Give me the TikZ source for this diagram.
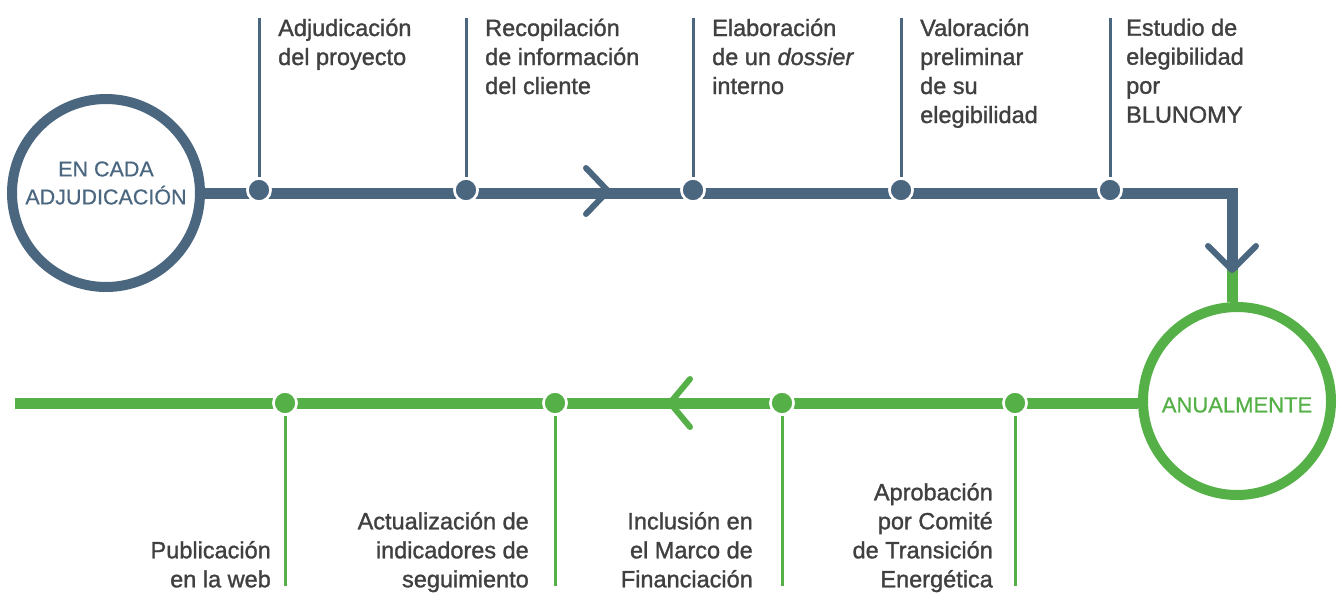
\documentclass[tikz,border=0pt]{standalone}
\usepackage{fontspec}
\setmainfont{Liberation Sans}
\newfontfamily\lblfont{Liberation Sans}[FakeBold=1.3,ItalicFeatures={FakeBold=1.3}]
\newfontfamily\circfont{Liberation Sans}[FakeBold=0.6]
\definecolor{cblue}{HTML}{4B6780}
\definecolor{cgreen}{HTML}{55B147}
\definecolor{ctext}{HTML}{404040}
\newcommand\botstrut{\rule[-7pt]{0pt}{1pt}}
\tikzset{
  lbl/.style={inner sep=0pt, text=ctext, font=\lblfont\fontsize{23.5}{29}\selectfont},
  toplbl/.style={lbl, anchor=north west, align=left},
  botlbl/.style={lbl, anchor=south east, align=right},
  bigcircle/.style={circle, line width=10pt, minimum size=188pt, inner sep=0pt},
  circtext/.style={inner sep=0pt, align=center, font=\circfont\fontsize{21.5}{28}\selectfont},
  mainline/.style={line width=11pt, line join=miter},
  tick/.style={line width=3pt},
  dot/.style={circle, draw=white, line width=2.5pt, minimum size=23pt, inner sep=0pt},
  chev/.style={line width=6pt, line cap=round, line join=round},
}
\begin{document}
\begin{tikzpicture}[x=1pt,y=-1pt]
\useasboundingbox (0,0) rectangle (1339,592);
% circles
\node[bigcircle, draw=cblue] (c1) at (106,193) {};
\node[circtext, text=cblue] (c1t) at (106,183) {EN CADA\\ADJUDICACIÓN};
\node[bigcircle, draw=cgreen] (c2) at (1237,401) {};
\node[circtext, text=cgreen, font=\circfont\fontsize{22}{28}\selectfont] (c2t) at (1237,405) {ANUALMENTE};
% coordinates
\coordinate (corner) at (1232,193);
\coordinate (bend) at (1232,270);
\coordinate (gend) at (15,403);
% main lines
\draw[mainline, cgreen] (bend) -- (bend |- c2.north);
\draw[mainline, cblue] (c1.east) -- (corner) -- (bend);
\draw[mainline, cgreen] (c2.west |- gend) -- (gend);
% chevrons
\draw[chev, cblue] (586,168) -- (608,191) -- (586,214);
\draw[chev, cblue] (1208,246) -- (1232,270) -- (1256,246);
\draw[chev, cgreen] (690,379) -- (670,403) -- (690,427);
% top ticks and dots
\foreach \i/\x in {1/259,2/466,3/693,4/901,5/1110}{
  \coordinate (t\i) at (\x,18);
  \node[dot, fill=cblue] (d\i) at (\x,190) {};
  \draw[tick, cblue] (t\i) -- (d\i.north);
  \node[dot, fill=cblue] at (d\i) {};
}
% bottom ticks and dots
\foreach \i/\x in {1/285,2/555,3/782,4/1015}{
  \coordinate (b\i) at (\x,586);
  \node[dot, fill=cgreen] (e\i) at (\x,403) {};
  \draw[tick, cgreen] (b\i) -- (e\i.south);
  \node[dot, fill=cgreen] at (e\i) {};
}
% top labels
\node[toplbl] (l1) at (278,18.5) {Adjudicación\\del proyecto};
\node[toplbl] (l2) at (485,18.5) {Recopilación\\de información\\del cliente};
\node[toplbl] (l3) at (712,18.5) {Elaboración\\de un \textit{dossier}\\interno};
\node[toplbl] (l4) at (920,18.5) {Valoración\\preliminar\\de su\\elegibilidad};
\node[toplbl] (l5) at (1126,18.5) {Estudio de\\elegibilidad\\por\\BLUNOMY};
% bottom labels
\node[botlbl] (m1) at (271,594.5) {Publicación\\en la web\botstrut};
\node[botlbl] (m2) at (529,594.5) {Actualización de\\indicadores de\\seguimiento\botstrut};
\node[botlbl] (m3) at (753,594.5) {Inclusión en\\el Marco de\\Financiación\botstrut};
\node[botlbl] (m4) at (993,594.5) {Aprobación\\por Comité\\de Transición\\Energética\botstrut};
\end{tikzpicture}
\end{document}
